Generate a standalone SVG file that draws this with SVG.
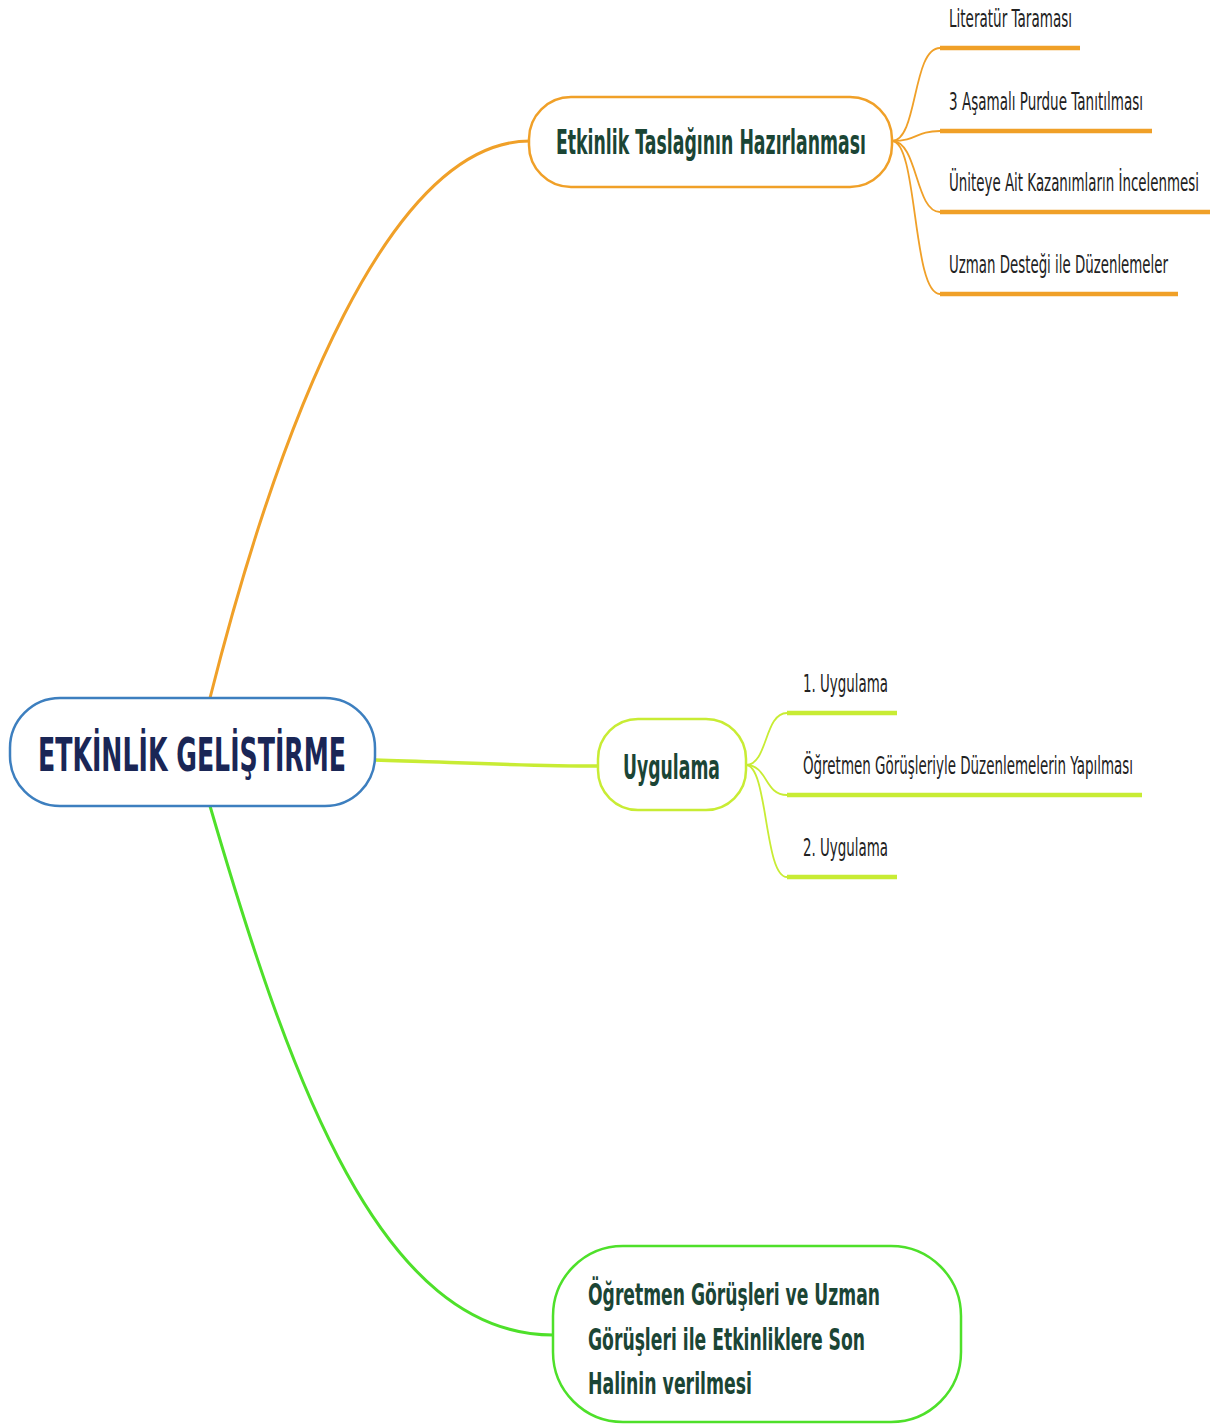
<svg xmlns="http://www.w3.org/2000/svg" width="1219" height="1426" viewBox="0 0 1219 1426">
<defs>
<style>
.node{fill:#ffffff;stroke-width:2.5}
.main{font-family:"DejaVu Sans","Liberation Sans",sans-serif;font-weight:bold;fill:#1b4535}
.sub{font-family:"DejaVu Sans","Liberation Sans",sans-serif;font-size:25px;fill:#222222}
.con{fill:none;stroke-linecap:round}
.or{stroke:#f0a028}
.yg{stroke:#c8ec34}
.gr{stroke:#4ee02a}
</style>
</defs>
<rect width="1219" height="1426" fill="#ffffff"/>
<g id="connectors">
<path class="con or" d="M210,698 C280,420 390,141 530,141" stroke-width="3"/>
<path class="con yg" d="M375,760 C450,762 520,766 598,766" stroke-width="3.5"/>
<path class="con gr" d="M210,806 C290,1080 380,1335 553,1335" stroke-width="3"/>
<g class="or" fill="none" stroke-width="1.8">
<path d="M892,141 C918,141 912,48 940,48"/>
<path d="M892,141 C918,141 915,131 940,131"/>
<path d="M892,141 C918,141 915,212 940,212"/>
<path d="M892,141 C918,141 912,294 940,294"/>
</g>
<g class="or" stroke-width="4.5">
<line x1="940" y1="48" x2="1080" y2="48"/>
<line x1="940" y1="131" x2="1152" y2="131"/>
<line x1="940" y1="212" x2="1210" y2="212"/>
<line x1="940" y1="294" x2="1178" y2="294"/>
</g>
<g class="yg" fill="none" stroke-width="1.8">
<path d="M746,765 C768,765 764,713 787,713"/>
<path d="M746,765 C768,765 764,795 787,795"/>
<path d="M746,765 C768,765 764,877 787,877"/>
</g>
<g class="yg" stroke-width="4.5">
<line x1="787" y1="713" x2="897" y2="713"/>
<line x1="787" y1="795" x2="1142" y2="795"/>
<line x1="787" y1="877" x2="897" y2="877"/>
</g>
</g>
<g id="root">
<rect class="node" x="10" y="698" width="365" height="108" rx="50" stroke="#3d7fbf"/>
<text x="38" y="771" font-size="46" textLength="308" lengthAdjust="spacingAndGlyphs" font-family="DejaVu Sans, Liberation Sans, sans-serif" font-weight="bold" fill="#1a2656">ETKİNLİK GELİŞTİRME</text>
</g>
<g id="n-taslak">
<rect class="node" x="529" y="97" width="363" height="90" rx="42" stroke="#f0a028"/>
<text class="main" x="556" y="154" font-size="33" textLength="310" lengthAdjust="spacingAndGlyphs">Etkinlik Taslağının Hazırlanması</text>
</g>
<g id="n-literatur"><text class="sub" transform="translate(949,27) scale(0.5,1)" textLength="246" lengthAdjust="spacingAndGlyphs">Literatür Taraması</text></g>
<g id="n-purdue"><text class="sub" transform="translate(949,110) scale(0.5,1)" textLength="388" lengthAdjust="spacingAndGlyphs">3 Aşamalı Purdue Tanıtılması</text></g>
<g id="n-unite"><text class="sub" transform="translate(949,191) scale(0.5,1)" textLength="500" lengthAdjust="spacingAndGlyphs">Üniteye Ait Kazanımların İncelenmesi</text></g>
<g id="n-uzman"><text class="sub" transform="translate(949,273) scale(0.5,1)" textLength="438" lengthAdjust="spacingAndGlyphs">Uzman Desteği ile Düzenlemeler</text></g>
<g id="n-uygulama">
<rect class="node" x="598" y="719" width="148" height="91" rx="40" stroke="#c8ec34"/>
<text class="main" x="623" y="779" font-size="34" textLength="97" lengthAdjust="spacingAndGlyphs">Uygulama</text>
</g>
<g id="n-u1"><text class="sub" transform="translate(803,692) scale(0.5,1)" textLength="170" lengthAdjust="spacingAndGlyphs">1. Uygulama</text></g>
<g id="n-ogretmen"><text class="sub" transform="translate(803,774) scale(0.5,1)" textLength="660" lengthAdjust="spacingAndGlyphs">Öğretmen Görüşleriyle Düzenlemelerin Yapılması</text></g>
<g id="n-u2"><text class="sub" transform="translate(803,856) scale(0.5,1)" textLength="170" lengthAdjust="spacingAndGlyphs">2. Uygulama</text></g>
<g id="n-son">
<rect class="node" x="553" y="1246" width="408" height="176" rx="70" stroke="#4ee02a"/>
<text class="main" x="588" y="1305" font-size="30" textLength="292" lengthAdjust="spacingAndGlyphs">Öğretmen Görüşleri ve Uzman</text>
<text class="main" x="588" y="1350" font-size="30" textLength="277" lengthAdjust="spacingAndGlyphs">Görüşleri ile Etkinliklere Son</text>
<text class="main" x="588" y="1394" font-size="30" textLength="164" lengthAdjust="spacingAndGlyphs">Halinin verilmesi</text>
</g>
</svg>
